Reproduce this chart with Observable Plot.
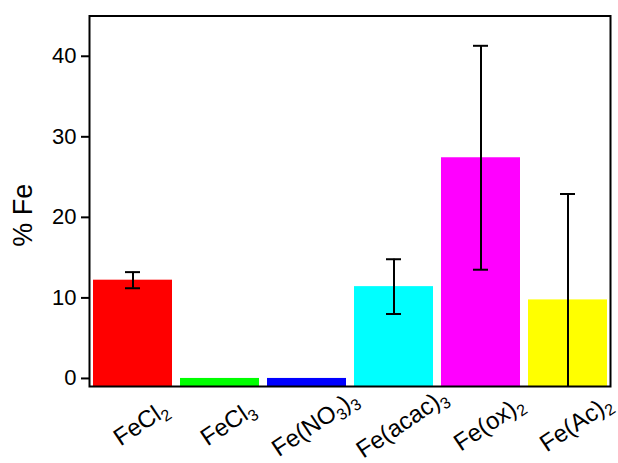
<!DOCTYPE html>
<html>
<head>
<meta charset="utf-8">
<script src="https://cdn.jsdelivr.net/npm/d3@7"></script>
<script src="https://cdn.jsdelivr.net/npm/@observablehq/plot@0.6"></script>
<style>
  html, body { margin: 0; padding: 0; background: #fff; }
  #chart { width: 618px; height: 463px; }
  svg { font-family: "Liberation Sans", Arial, sans-serif; }
</style>
</head>
<body>
<div id="chart"></div>
<script>
const categories = ["FeCl2", "FeCl3", "Fe(NO3)3", "Fe(acac)3", "Fe(ox)2", "Fe(Ac)2"];
const values = [12.2, 0, 0, 11.4, 27.4, 9.75];
const errors = [1.0, null, null, 3.4, 13.9, 13.15];
const colors = ["#ff0000", "#00ff00", "#0000ff", "#00ffff", "#ff00ff", "#ffff00"];
const yTicks = [0, 10, 20, 30, 40];
const yLabel = "% Fe";

const data = categories.map((c, i) => ({cat: c, v: values[i], err: errors[i]}));
const errData = data.filter(d => d.err != null);
const yMin = -1.0, yMax = 45.0;

const plot = Plot.plot({
  width: 618,
  height: 463,
  marginLeft: 89,
  marginRight: 8,
  marginTop: 15.5,
  marginBottom: 77,
  style: {fontFamily: "'Liberation Sans', Arial, sans-serif", color: "black", background: "white"},
  x: {domain: categories, paddingInner: 0.095, paddingOuter: 0.04, axis: null},
  y: {domain: [yMin, yMax], axis: null},
  color: {domain: categories, range: colors},
  marks: [
    Plot.barY(data, {x: "cat", y1: () => yMin, y2: "v", fill: "cat"}),
    Plot.ruleX(errData, {x: "cat", y1: d => d.v - d.err, y2: d => d.v + d.err, stroke: "black", strokeWidth: 2, clip: true}),
    Plot.tickY(errData, {x: "cat", y: d => d.v + d.err, stroke: "black", strokeWidth: 2, insetLeft: 32, insetRight: 32}),
    Plot.tickY(errData.filter(d => d.v - d.err >= yMin), {x: "cat", y: d => d.v - d.err, stroke: "black", strokeWidth: 2, insetLeft: 32, insetRight: 32}),
    Plot.axisY({ticks: yTicks, tickSize: 8, tickPadding: 5, fontSize: 22, strokeWidth: 2, label: null, tickFormat: d => String(d)}),
    Plot.frame({stroke: "black", strokeWidth: 2}),
    Plot.text(data, {x: "cat", y: () => yMin, text: "cat", rotate: -34, textAnchor: "middle", lineAnchor: "middle", dx: 8, dy: 37, fontSize: 24, fill: "black", className: "xlab"}),
    Plot.text([yLabel], {frameAnchor: "left", text: d => d, rotate: -90, dx: -66, dy: 14, fontSize: 27, fill: "black", textAnchor: "middle", lineAnchor: "middle"})
  ]
});

document.getElementById("chart").appendChild(plot);

// Render digits in chemical formulae as subscripts
d3.select(plot).selectAll(".xlab text").each(function() {
  const el = d3.select(this);
  const s = el.text();
  el.text(null);
  const parts = s.split(/(\d+)/).filter(p => p.length);
  let shifted = false;
  parts.forEach(p => {
    const t = el.append("tspan").text(p);
    if (/^\d+$/.test(p)) {
      t.attr("font-size", 16).attr("dy", shifted ? 0 : 5);
      shifted = true;
    } else {
      if (shifted) { t.attr("dy", -5); shifted = false; }
    }
  });
});
</script>
</body>
</html>
